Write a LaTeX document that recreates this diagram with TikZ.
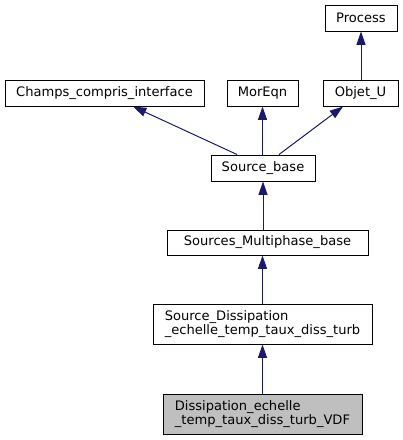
\documentclass[tikz,border=0pt]{standalone}
\usepackage{fontspec}
\setmainfont{DejaVu Sans}
\usepackage{tikz}
\usetikzlibrary{arrows.meta}
\definecolor{edgeblue}{HTML}{191970}
\definecolor{curgray}{HTML}{BFBFBF}

\tikzset{
  classbox/.style={draw=black, line width=0.75pt, inner sep=0pt, minimum height=19.5pt,
    font=\fontsize{9.8}{10.5}\selectfont},
  twoline/.style={classbox, minimum height=30pt, align=left},
  inherit/.style={draw=edgeblue, line width=0.75pt, -{Triangle[length=10pt,width=6.75pt]}}
}

\begin{document}
\begin{tikzpicture}[x=0.75pt,y=0.75pt,yscale=-1,xscale=1]
\path[use as bounding box] (0,0) rectangle (403,440);

%Shape: top row
\node [classbox, minimum width=54pt] (process) at (361,18) {Process};
%Shape: parents of Source_base
\node [classbox, minimum width=149.25pt] (champs) at (104.5,93) {Champs\_compris\_interface};
\node [classbox, minimum width=53.25pt] (moreqn) at (262.5,93) {MorEqn};
\node [classbox, minimum width=56.25pt] (objetu) at (360.5,93) {Objet\_U};
%Shape: middle chain
\node [classbox, minimum width=78pt] (srcbase) at (263,168) {Source\_base};
\node [classbox, minimum width=150.75pt, minimum height=18.75pt] (multiph) at (267.5,242.5) {Sources\_Multiphase\_base};
\node [twoline, minimum width=164.25pt] (srcdiss) at (262.5,324) {Source\_Dissipation\\\_echelle\_temp\_taux\_diss\_turb};
%Shape: current class
\node [twoline, minimum width=149.25pt, fill=curgray] (dissvdf) at (262.5,414) {Dissipation\_echelle\\\_temp\_taux\_diss\_turb\_VDF};

%Straight Lines: inheritance
\draw [inherit] (objetu.north -| process.south) -- (process.south);
\draw [inherit] ([xshift=-19.5pt]srcbase.north) -- ([xshift=21.4pt]champs.south);
\draw [inherit] (srcbase.north -| moreqn.south) -- (moreqn.south);
\draw [inherit] ([xshift=12pt]srcbase.north) -- ([xshift=-13.1pt]objetu.south);
\draw [inherit] (multiph.north -| srcbase.south) -- (srcbase.south);
\draw [inherit] (srcdiss.north) -- (multiph.south -| srcdiss.north);
\draw [inherit] (dissvdf.north) -- (srcdiss.south);
\end{tikzpicture}
\end{document}
